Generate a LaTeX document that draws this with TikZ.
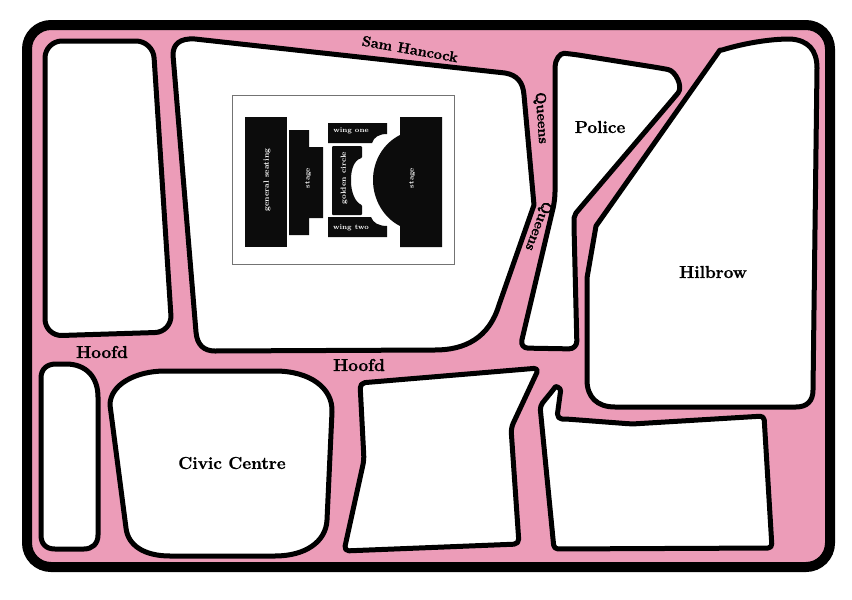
\documentclass[tikz,border=0pt]{standalone}
\usepackage{fontspec}
\usepackage{xcolor}
\usepackage{tikz}
\newfontfamily\streetfont{Latin Modern Roman}[BoldFeatures={FakeBold=1.2}]
\definecolor{roadpink}{HTML}{EC9CB8}
\definecolor{seatblack}{HTML}{0C0C0C}

\begin{document}
\begin{tikzpicture}[
  x=1pt, y=-1pt,
  block/.style={draw=black, line width=5pt, fill=white, line join=round},
  seats/.style={fill=seatblack, draw=none},
  streetlabel/.style={font=\streetfont\fontsize{17.2}{20}\selectfont\bfseries, text=black, inner sep=0pt},
  roadlabel/.style={font=\streetfont\fontsize{14.5}{17}\selectfont\bfseries, text=black, inner sep=0pt},
  seatlabel/.style={font=\fontsize{7}{8}\selectfont\bfseries, text=white, inner sep=0pt}
]
\useasboundingbox (0,0) rectangle (852,600);
\fill[white] (0,0) rectangle (852,600);

\draw[line width=10pt, fill=roadpink, rounded corners=24pt] (27,25) rectangle (830,567);

% city blocks
\draw[block, rounded corners=17pt] (45,41) -- (153,41) -- (172,332) -- (45,336) -- cycle;
\draw[block] (173,55) .. controls (173,44) and (180,38) .. (195,39) -- (505,73)
  .. controls (517,75) and (523,82) .. (524,95) -- (534,205) -- (499,305)
  .. controls (489,338) and (465,350) .. (435,350) -- (215,351)
  .. controls (204,351) and (197,345) .. (196,332) -- cycle;
\draw[block, rounded corners=8pt] (555,75) .. controls (555,60) and (560,53) .. (572,54)
  -- (660,68) .. controls (676,71) and (683,87) .. (673,99)
  -- (581,207) .. controls (576,213) and (574,218) .. (574,226)
  -- (577,349) -- (520,348) -- (555,200) -- cycle;
\draw[block] (720,50) -- (722,50) .. controls (745,43) and (770,39) .. (790,39)
  .. controls (808,40) and (817,50) .. (817,68) -- (813,390)
  .. controls (813,401) and (807,407) .. (796,407) -- (615,407)
  .. controls (597,407) and (587,397) .. (587,380) -- (587,278) -- (596,226) -- cycle;
\draw[block] (66,364) .. controls (86,364) and (98,377) .. (98,397) -- (98,535)
  .. controls (98,544) and (92,549) .. (84,549) -- (55,549)
  .. controls (46,549) and (41,544) .. (41,535) -- (41,378)
  .. controls (41,369) and (47,364) .. (56,364) -- cycle;
\draw[block] (110,405) .. controls (110,385) and (135,371) .. (165,371) -- (275,371)
  .. controls (310,371) and (333,388) .. (332,412) -- (327,520)
  .. controls (326,542) and (305,556) .. (275,556) -- (170,556)
  .. controls (145,556) and (128,546) .. (126,528) -- cycle;
\draw[block, rounded corners=5pt] (360,383) -- (539,368) -- (511,428) -- (519,544) -- (344,551) -- (364,460) -- cycle;
\draw[block, rounded corners=4pt] (540,406) -- (553,390)
  .. controls (556,386) and (561,388) .. (560,395) -- (558,410)
  .. controls (557,417) and (560,419) .. (566,419) -- (632,424) -- (764,416) -- (772,548) -- (554,549) -- cycle;

% venue inset
\draw[draw=gray!90!black, line width=0.8pt, fill=white] (232,95) rectangle (454,264);
\fill[seats] (245,117) rectangle (287,247);
\fill[seats] (289,130) -- (309,130) -- (309,147) -- (323,147) -- (323,218) -- (309,218) -- (309,235) -- (289,235) -- cycle;
\fill[seats] (328,123) -- (387,123) -- (387,134) .. controls (379,134) and (374,137) .. (372,143) -- (328,143) -- cycle;
\fill[seats] (328,217) -- (371,217) .. controls (373,223) and (379,226) .. (387,226) -- (387,237) -- (328,237) -- cycle;
\fill[seats, rounded corners=1pt] (332,146) -- (362,146) -- (362,158) .. controls (354,160) and (351,170) .. (351,180)
  .. controls (351,192) and (355,202) .. (362,205) -- (362,215) -- (332,215) -- cycle;
\fill[seats] (400,117) -- (442,117) -- (442,247) -- (400,247) -- (400,226)
  .. controls (384,218) and (373,200) .. (373,180) .. controls (373,160) and (384,143) .. (400,135) -- cycle;

\node[seatlabel, font=\fontsize{7.8}{9}\selectfont\bfseries, rotate=90] (seating) at (267,180) {general seating};
\node[seatlabel, rotate=90] (stagea) at (308,178) {stage};
\node[seatlabel, font=\fontsize{7.4}{9}\selectfont\bfseries, rotate=90] (golden) at (344,178) {golden circle};
\node[seatlabel, rotate=90] (stageb) at (412,178) {stage};
\node[seatlabel] (wingone) at (351,131) {wing one};
\node[seatlabel] (wingtwo) at (351,228) {wing two};

% street and place names
\node[roadlabel, rotate=-10] (hancock) at (410,49) {Sam Hancock};
\node[roadlabel, rotate=-86] (queensa) at (541,118) {Queens};
\node[roadlabel, rotate=-111] (queensb) at (538,226) {Queens};
\node[streetlabel] (police) at (600,127) {Police};
\node[streetlabel] (hilbrow) at (713,272) {Hilbrow};
\node[streetlabel] (civic) at (232,463) {Civic Centre};
\node[streetlabel] (hoofda) at (102,352) {Hoofd};
\node[streetlabel] (hoofdb) at (359,365) {Hoofd};
\end{tikzpicture}
\end{document}
